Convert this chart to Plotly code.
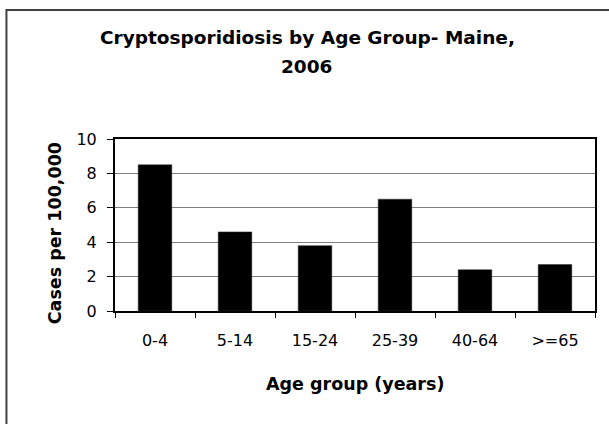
import plotly.graph_objects as go

# data
age_groups = ["0-4", "5-14", "15-24", "25-39", "40-64", ">=65"]
rates = [8.5, 4.6, 3.8, 6.5, 2.4, 2.7]
y_ticks = [0, 2, 4, 6, 8, 10]

W, H = 609, 424
L, R, T, B = 115, 12, 139, 113
pw, ph = W - L - R, H - T - B


def px(x):
    # pixel -> paper coordinate
    return (x - L) / pw


def py(y):
    return (H - B - y) / ph


FONT = "DejaVu Sans, Verdana, sans-serif"

fig = go.Figure(go.Bar(
    x=age_groups, y=rates,
    marker=dict(color="black", line=dict(color="#303030", width=0.5)),
    width=0.42,
))

fig.update_layout(
    width=W, height=H,
    margin=dict(l=L, r=R, t=T, b=B),
    paper_bgcolor="white", plot_bgcolor="white",
    font=dict(family=FONT, color="black", size=16),
    showlegend=False,
)

fig.update_xaxes(
    type="category", tickson="boundaries", ticks="outside", ticklen=5,
    tickcolor="black", tickwidth=1,
    showline=True, linecolor="black", linewidth=2, mirror=True,
    showgrid=False, tickfont=dict(size=16), ticklabelstandoff=14,
)
fig.update_yaxes(
    range=[0, 10], tickvals=y_ticks, ticks="outside", ticklen=6,
    tickcolor="black", tickwidth=1,
    showline=True, linecolor="black", linewidth=2, mirror=True,
    showgrid=True, gridcolor="#7f7f7f", gridwidth=1,
    tickfont=dict(size=16), ticklabelstandoff=7, zeroline=False,
)

# title, two lines placed separately to get the wider line gap
fig.add_annotation(
    text="<b>Cryptosporidiosis by Age Group- Maine,</b>",
    xref="paper", yref="paper", x=px(308), y=py(37),
    xanchor="center", yanchor="middle",
    showarrow=False, font=dict(size=18.5),
)
fig.add_annotation(
    text="<b>2006</b>",
    xref="paper", yref="paper", x=px(308), y=py(67),
    xanchor="center", yanchor="middle",
    showarrow=False, font=dict(size=18.5),
)
# axis titles
fig.add_annotation(
    text="<b>Age group (years)</b>", xref="paper", yref="paper",
    x=px(356), y=py(384), xanchor="center", yanchor="middle",
    showarrow=False, font=dict(size=17.5),
)
fig.add_annotation(
    text="<b>Cases per 100,000</b>", xref="paper", yref="paper",
    x=px(55), y=py(233), xanchor="center", yanchor="middle",
    showarrow=False, textangle=-90, font=dict(size=17.5),
)

# outer chart border, right and bottom edges fall outside the image
fig.add_shape(
    type="rect", xref="paper", yref="paper",
    x0=px(6), x1=px(660), y0=py(480), y1=py(10),
    line=dict(color="#404040", width=2), layer="below",
)

# drop the default page margin so the figure sits at the window origin
fig.write_html(
    "out.html",
    config={"displayModeBar": False},
    post_script="document.body.style.margin='0';",
)
